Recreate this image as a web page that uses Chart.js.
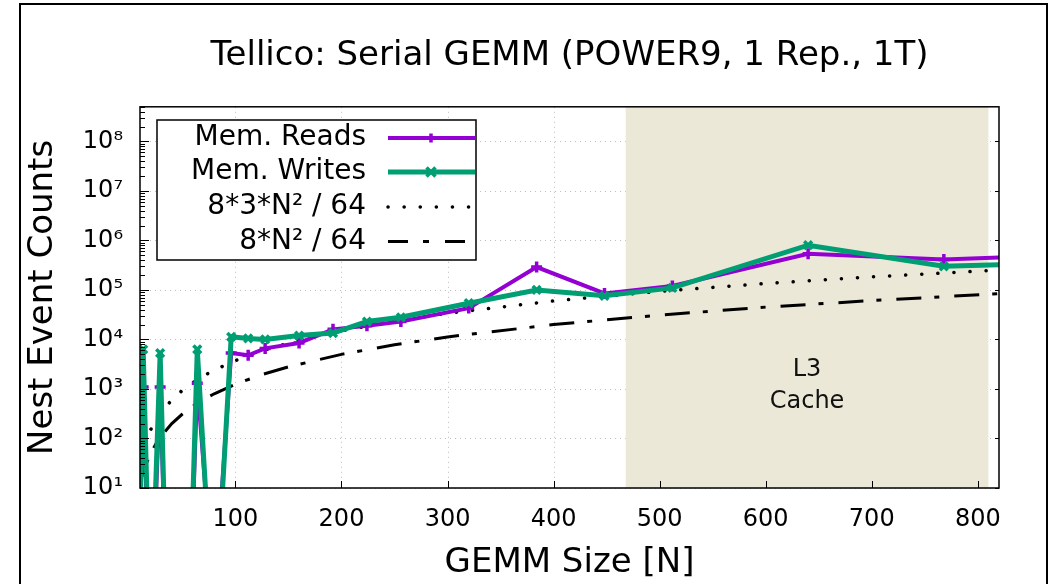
<!DOCTYPE html>
<html>
<head>
<meta charset="utf-8">
<title>Tellico: Serial GEMM</title>
<script src="https://cdn.jsdelivr.net/npm/chart.js"></script>
<style>
  body { margin: 0; background: #fff; }
  #wrap { width: 1053px; height: 584px; position: relative; }
</style>
</head>
<body>
<div id="wrap"><canvas id="gemmChart"></canvas></div>
<script>
// GEMM sizes (N) and the counter values
const sizes = [8, 13, 20, 29, 36, 56, 64, 80, 96, 112, 128, 160, 192, 224, 256, 320, 384, 448, 512, 640, 768, 832];
const memReads = [0.01, 1100, 0.01, 1100, 0.01, 0.01, 1300, 0.05, 5300, 4800, 6600, 8500, 16000, 19000, 23000, 43000, 290000, 85000, 120000, 540000, 410000, 460000];
const memWrites = [0.01, 6300, 0.01, 5300, 0.01, 0.01, 6300, 0.01, 11300, 10500, 10000, 12000, 13500, 23000, 28000, 54000, 100000, 76000, 110000, 800000, 300000, 330000];

// the two reference curves
const refSizes = [10, 12, 15, 20, 25, 30, 40, 50, 60, 70, 80, 100, 125, 150, 200, 250, 300, 400, 500, 600, 700, 820];
const ref3N2 = [38, 54, 85, 150, 235, 340, 600, 940, 1350, 1840, 2400, 3750, 5900, 8400, 15000, 23400, 33800, 60000, 94000, 135000, 184000, 252000];
const refN2 = [12.5, 18, 28, 50, 78, 112, 200, 312, 450, 612, 800, 1250, 1950, 2800, 5000, 7800, 11250, 20000, 31000, 45000, 61000, 84000];

const xTicks = [100, 200, 300, 400, 500, 600, 700, 800];
const yTicks = [1e1, 1e2, 1e3, 1e4, 1e5, 1e6, 1e7, 1e8];
const yTickLabels = ["10¹", "10²", "10³", "10⁴", "10⁵", "10⁶", "10⁷", "10⁸"];

// L3 cache band and its label
const l3Range = [468, 810];
const l3Label = ["L3", "Cache"];
const l3LabelY = [2400, 560];

const FONT = '"DejaVu Sans", sans-serif';
const purple = '#9400d3';
const green = '#009e73';

function pts(xs, ys) {
    return xs.map((n, i) => ({ x: n, y: ys[i] }));
}

function drawMarker(ctx, style, cx, cy, r) {
    ctx.beginPath();
    if (style == 'cross') {
        ctx.moveTo(cx - r, cy); ctx.lineTo(cx + r, cy);
        ctx.moveTo(cx, cy - r); ctx.lineTo(cx, cy + r);
    } else {
        ctx.moveTo(cx - r, cy - r); ctx.lineTo(cx + r, cy + r);
        ctx.moveTo(cx - r, cy + r); ctx.lineTo(cx + r, cy - r);
    }
    ctx.stroke();
}

// gnuplot-ish decorations: dotted grid, L3 band, inward ticks, boxed legend
const gnuplotLook = {
    id: 'gnuplotLook',
    beforeDatasetsDraw(chart) {
        const ctx = chart.ctx, a = chart.chartArea;
        const x = chart.scales.x, y = chart.scales.y;
        ctx.save();
        ctx.strokeStyle = '#bdbdbd';
        ctx.lineWidth = 1;
        ctx.setLineDash([1, 4]);
        xTicks.forEach(function(v) {
            const px = Math.round(x.getPixelForValue(v)) + 0.5;
            ctx.beginPath(); ctx.moveTo(px, a.top); ctx.lineTo(px, a.bottom); ctx.stroke();
        });
        yTicks.forEach(function(v) {
            const py = Math.round(y.getPixelForValue(v)) + 0.5;
            ctx.beginPath(); ctx.moveTo(a.left, py); ctx.lineTo(a.right, py); ctx.stroke();
        });
        ctx.setLineDash([]);

        const x0 = x.getPixelForValue(l3Range[0]);
        const x1 = x.getPixelForValue(l3Range[1]);
        ctx.fillStyle = '#ebe8d8';
        ctx.fillRect(x0, a.top, x1 - x0, a.bottom - a.top);

        ctx.fillStyle = '#111';
        ctx.font = '24px ' + FONT;
        ctx.textAlign = 'center';
        ctx.textBaseline = 'middle';
        l3Label.forEach(function(t, i) {
            ctx.fillText(t, (x0 + x1) / 2, y.getPixelForValue(l3LabelY[i]));
        });
        ctx.restore();
    },
    afterDatasetsDraw(chart) {
        const ctx = chart.ctx, a = chart.chartArea;
        const x = chart.scales.x, y = chart.scales.y;
        ctx.save();
        ctx.strokeStyle = '#000';
        ctx.lineWidth = 1;

        // ticks pointing into the plot
        ctx.beginPath();
        xTicks.forEach(function(v) {
            const px = Math.round(x.getPixelForValue(v)) + 0.5;
            ctx.moveTo(px, a.bottom); ctx.lineTo(px, a.bottom - 7);
        });
        for (let k = 1; k <= 8; k++) {
            for (let m = 1; m <= 9; m++) {
                const v = m * Math.pow(10, k);
                if (v > y.max) continue;
                const py = Math.round(y.getPixelForValue(v)) + 0.5;
                const len = m == 1 ? 9 : 5;
                ctx.moveTo(a.left, py); ctx.lineTo(a.left + len, py);
                if (m == 1) { ctx.moveTo(a.right, py); ctx.lineTo(a.right - 4, py); }
            }
        }
        ctx.stroke();

        // plot border
        ctx.lineWidth = 1.5;
        ctx.strokeRect(a.left, a.top, a.right - a.left, a.bottom - a.top);

        // legend box
        const box = { left: 157, top: 120, right: 476, bottom: 260 };
        ctx.fillStyle = '#fff';
        ctx.fillRect(box.left, box.top, box.right - box.left, box.bottom - box.top);
        ctx.strokeRect(box.left, box.top, box.right - box.left, box.bottom - box.top);

        const rows = [138, 172, 207, 241.5];
        const legendSets = [1, 0, 2, 3];
        ctx.font = '28px ' + FONT;
        ctx.textAlign = 'right';
        ctx.textBaseline = 'middle';
        legendSets.forEach(function(di, i) {
            const ds = chart.data.datasets[di];
            const ry = rows[i];
            ctx.fillStyle = '#000';
            ctx.fillText(ds.label, 366, ry);
            ctx.strokeStyle = ds.borderColor;
            ctx.lineWidth = ds.borderWidth;
            ctx.lineCap = ds.borderCapStyle || 'butt';
            ctx.setLineDash(ds.legendDash || ds.borderDash || []);
            ctx.beginPath(); ctx.moveTo(388, ry); ctx.lineTo(475, ry); ctx.stroke();
            ctx.setLineDash([]);
            ctx.lineCap = 'butt';
            if (ds.pointRadius > 0) {
                ctx.lineWidth = ds.pointBorderWidth;
                drawMarker(ctx, ds.pointStyle, 431, ry, ds.pointRadius - 1);
            }
        });

        // outer frame of the figure
        ctx.strokeStyle = '#000';
        ctx.lineWidth = 2;
        ctx.strokeRect(20, 4, 1027, 590);
        ctx.restore();
    }
};

window.onload = function() {
    const context = document.getElementById('gemmChart').getContext('2d');
    new Chart(context, {
        type: 'line',
        data: {
            datasets: [{
                label: 'Mem. Writes',
                data: pts(sizes, memWrites),
                borderColor: green,
                borderWidth: 5,
                pointStyle: 'crossRot',
                pointRadius: 5.5,
                pointBorderWidth: 3.5,
                pointBorderColor: green,
                clip: 0
            }, {
                label: 'Mem. Reads',
                data: pts(sizes, memReads),
                borderColor: purple,
                borderWidth: 4,
                pointStyle: 'cross',
                pointRadius: 5.5,
                pointBorderWidth: 3.5,
                pointBorderColor: purple,
                clip: 0
            }, {
                label: '8*3*N² / 64',
                data: pts(refSizes, ref3N2),
                borderColor: '#000',
                borderWidth: 3.5,
                borderDash: [0.1, 16],
                borderCapStyle: 'round',
                pointRadius: 0,
                clip: 0
            }, {
                label: '8*N² / 64',
                data: pts(refSizes, refN2),
                borderColor: '#000',
                borderWidth: 3,
                borderDash: [25, 13, 5, 15],
                legendDash: [20, 15, 6, 16],
                pointRadius: 0,
                clip: 0
            }]
        },
        options: {
            responsive: true,
            maintainAspectRatio: false,
            animation: false,
            events: [],
            layout: { padding: { left: 20, right: 54, top: 0, bottom: 0 } },
            elements: { line: { tension: 0, fill: false } },
            plugins: {
                legend: { display: false },
                tooltip: { enabled: false },
                title: {
                    display: true,
                    text: 'Tellico: Serial GEMM (POWER9, 1 Rep., 1T)',
                    color: '#000',
                    fullSize: false,
                    font: { family: FONT, size: 34, weight: 'normal' },
                    padding: { top: 36, bottom: 30 }
                }
            },
            scales: {
                x: {
                    type: 'linear',
                    min: 10,
                    max: 820,
                    grid: { display: false, drawTicks: false },
                    border: { display: false },
                    afterBuildTicks: function(scale) {
                        scale.ticks = xTicks.map(v => ({ value: v }));
                    },
                    afterFit: function(scale) { scale.height = 96; },
                    ticks: {
                        autoSkip: false,
                        maxRotation: 0,
                        padding: 17,
                        color: '#000',
                        font: { family: FONT, size: 24 }
                    },
                    title: {
                        display: true,
                        text: 'GEMM Size [N]',
                        color: '#000',
                        font: { family: FONT, size: 34 },
                        padding: { top: 0, bottom: 0 }
                    }
                },
                y: {
                    type: 'logarithmic',
                    min: 10,
                    max: 5e8,
                    grid: { display: false, drawTicks: false },
                    border: { display: false },
                    afterBuildTicks: function(scale) {
                        scale.ticks = yTicks.map(v => ({ value: v, major: true }));
                    },
                    afterFit: function(scale) { scale.width = 120; },
                    ticks: {
                        autoSkip: false,
                        padding: 17,
                        color: '#000',
                        font: { family: FONT, size: 24 },
                        callback: function(value, index) { return yTickLabels[index]; }
                    },
                    title: {
                        display: true,
                        text: 'Nest Event Counts',
                        color: '#000',
                        font: { family: FONT, size: 34 },
                        padding: { top: 3, bottom: 0 }
                    }
                }
            }
        },
        plugins: [gnuplotLook]
    });
};
</script>
</body>
</html>
